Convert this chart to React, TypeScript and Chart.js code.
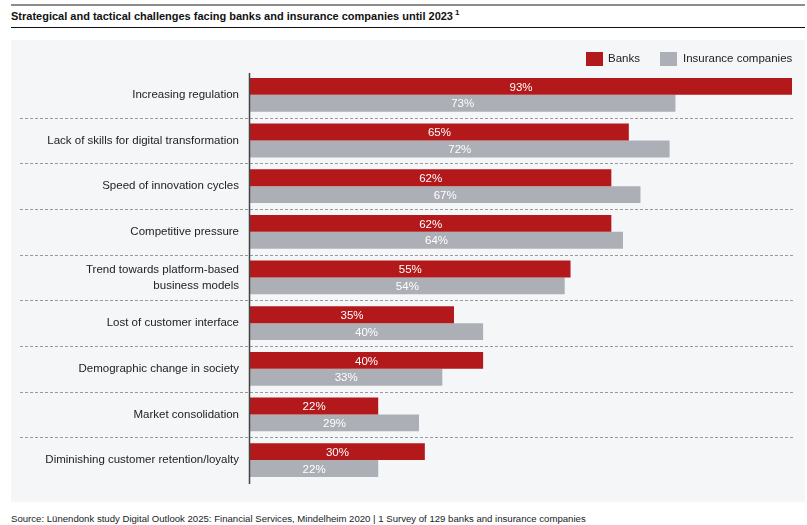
import React, { useEffect, useRef } from "react";
import { Chart, registerables } from "chart.js";
Chart.register(...registerables);

const TITLE = "Strategical and tactical challenges facing banks and insurance companies until 2023";
const SOURCE = "Source: Lünendonk study Digital Outlook 2025: Financial Services, Mindelheim 2020 | 1 Survey of 129 banks and insurance companies";
const categories: (string | string[])[] = [
  "Increasing regulation",
  "Lack of skills for digital transformation",
  "Speed of innovation cycles",
  "Competitive pressure",
  ["Trend towards platform-based", "business models"],
  "Lost of customer interface",
  "Demographic change in society",
  "Market consolidation",
  "Diminishing customer retention/loyalty",
];
const seriesNames = ["Banks", "Insurance companies"];
const banks = [93, 65, 62, 62, 55, 35, 40, 22, 30];
const insurance = [73, 72, 67, 64, 54, 40, 33, 29, 22];

const RED = "#b3181a";
const GRAY = "#acafb5";
const FONT = "'Liberation Sans', Arial, sans-serif";

const overlay = {
  id: "overlay",
  afterDatasetsDraw(chart: any) {
    const ctx = chart.ctx;
    const y = chart.scales.y;
    const n = chart.data.labels.length;
    ctx.save();
    ctx.strokeStyle = "#9a9a9a";
    ctx.lineWidth = 1;
    ctx.setLineDash([3, 2]);
    for (let i = 0; i < n - 1; i++) {
      const py = Math.round((y.getPixelForValue(i) + y.getPixelForValue(i + 1)) / 2) + 0.5;
      ctx.beginPath();
      ctx.moveTo(9, py);
      ctx.lineTo(782, py);
      ctx.stroke();
    }
    ctx.setLineDash([]);
    ctx.fillStyle = "#ffffff";
    ctx.font = `11.5px ${FONT}`;
    ctx.textAlign = "center";
    ctx.textBaseline = "middle";
    chart.data.datasets.forEach((ds: any, di: number) => {
      const meta = chart.getDatasetMeta(di);
      meta.data.forEach((bar: any, i: number) => {
        const cx = (bar.x + bar.base) / 2;
        ctx.fillText(ds.data[i] + "%", cx, bar.y + 1);
      });
    });
    const ca = chart.chartArea;
    ctx.strokeStyle = "#444";
    ctx.lineWidth = 1.5;
    ctx.beginPath();
    ctx.moveTo(ca.left - 0.5, ca.top + 1);
    ctx.lineTo(ca.left - 0.5, ca.bottom + 1);
    ctx.stroke();
    ctx.restore();
  },
};

export default function App() {
  const ref = useRef<HTMLCanvasElement | null>(null);
  useEffect(() => {
    document.body.style.margin = "0";
    const chart = new Chart(ref.current!, {
      type: "bar",
      data: {
        labels: categories,
        datasets: [
          { label: seriesNames[0], data: banks, backgroundColor: RED, categoryPercentage: 0.74, barPercentage: 1 },
          { label: seriesNames[1], data: insurance, backgroundColor: GRAY, categoryPercentage: 0.74, barPercentage: 1 },
        ],
      },
      options: {
        indexAxis: "y",
        animation: false,
        responsive: false,
        maintainAspectRatio: false,
        layout: { padding: { top: 32, bottom: 17, right: 13, left: 0 } },
        plugins: { legend: { display: false }, tooltip: { enabled: false } },
        scales: {
          x: { display: false, min: 0, max: 93 },
          y: {
            grid: { display: false, drawTicks: false },
            border: { display: false },
            ticks: {
              color: "#222",
              padding: 11,
              font: { family: FONT, size: 11.5, lineHeight: 1.4 },
            },
            afterFit(scale: any) {
              scale.width = 239;
            },
          },
        },
      },
      plugins: [overlay],
    });
    return () => chart.destroy();
  }, []);

  const box = (c: string) => ({ position: "absolute" as const, width: 17, height: 14, background: c });
  const txt = { position: "absolute" as const, fontFamily: FONT, fontSize: 11.5, color: "#222", lineHeight: "14px", whiteSpace: "nowrap" as const };

  return (
    <div style={{ position: "relative", width: 807, height: 525, background: "#fff", fontFamily: FONT, overflow: "hidden" }}>
      <div style={{ position: "absolute", left: 11, top: 4, width: 794, height: 2, background: "#8c8c8c" }} />
      <div style={{ ...txt, left: 11, top: 9, fontSize: 11, fontWeight: "bold", color: "#111" }}>
        {TITLE}
        <sup style={{ fontSize: 8, verticalAlign: "top", position: "relative", top: -3, marginLeft: 2 }}>1</sup>
      </div>
      <div style={{ position: "absolute", left: 11, top: 27, width: 794, height: 1, background: "#111" }} />
      <div style={{ position: "absolute", left: 11, top: 40, width: 794, height: 462, background: "#f5f6f8" }}>
        <canvas ref={ref} width={794} height={462} style={{ display: "block" }} />
      </div>
      <div style={{ ...box(RED), left: 586, top: 52 }} />
      <div style={{ ...txt, left: 608, top: 51 }}>{seriesNames[0]}</div>
      <div style={{ ...box(GRAY), left: 660, top: 52 }} />
      <div style={{ ...txt, left: 683, top: 51 }}>{seriesNames[1]}</div>
      <div style={{ ...txt, left: 11, top: 512, fontSize: 9.6, color: "#222" }}>{SOURCE}</div>
    </div>
  );
}
